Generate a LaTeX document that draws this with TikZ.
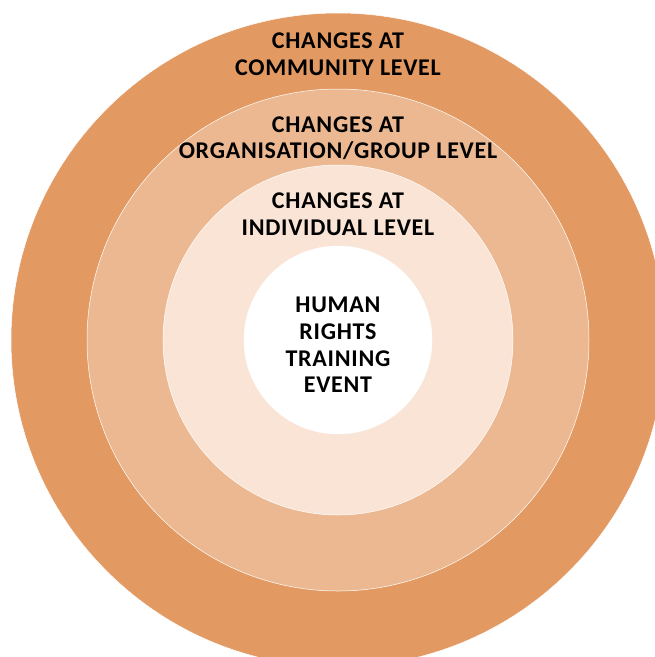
\documentclass[tikz,border=0pt]{standalone}
\usepackage{fontspec}
\setmainfont{Carlito}
\usepackage{tikz}
\usetikzlibrary{positioning}

\definecolor{ringouter}{RGB}{226,153,98}
\definecolor{ringmid}{RGB}{235,184,145}
\definecolor{ringinner}{RGB}{249,228,214}

\begin{document}
\begin{tikzpicture}[x=1pt, y=-1pt]
        \tikzstyle{ring}=[circle, draw=white, line width=0.5pt, inner sep=0pt]
        \tikzstyle{caption}=[align=center, inner sep=0pt,
                font=\fontsize{24}{26.6}\selectfont\bfseries\addfontfeatures{LetterSpace=3}]

        \useasboundingbox (0,0) rectangle (655,657);
        \clip (0,0) rectangle (655,657);

        % rings, largest first
        \node   (community)    [ring, fill=ringouter, minimum size=654pt] at (338,340) {};
        \node   (group)        [ring, fill=ringmid, minimum size=502pt] at (community.center) {};
        \node   (individual)   [ring, fill=ringinner, minimum size=350pt] at (community.center) {};
        \node   (event)        [ring, fill=white, minimum size=188pt] at (community.center) {};

        % captions
        \node   (communitytext)  [caption] at (338,54)  {CHANGES AT\\COMMUNITY LEVEL};
        \node   (grouptext)      [caption] at (338,138) {CHANGES AT\\ORGANISATION/GROUP LEVEL};
        \node   (individualtext) [caption] at (338,214) {CHANGES AT\\INDIVIDUAL LEVEL};
        \node   (eventtext)      [caption] at (338,345) {HUMAN\\RIGHTS\\TRAINING\\EVENT};

    \end{tikzpicture}
\end{document}
